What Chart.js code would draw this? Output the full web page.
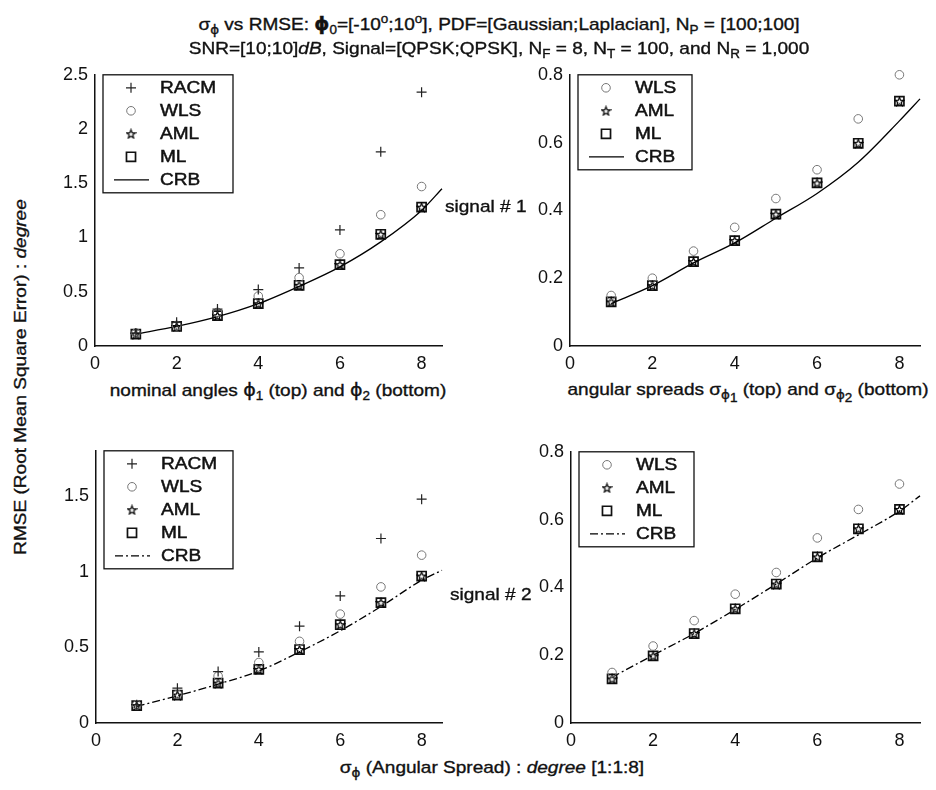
<!DOCTYPE html>
<html>
<head>
<meta charset="utf-8">
<script src="https://cdn.jsdelivr.net/npm/chart.js@4.4.0/dist/chart.umd.min.js"></script>
<style>
  body { margin: 0; width: 936px; height: 790px; background: #fff; position: relative; overflow: hidden;
         font-family: "Liberation Sans", Arial, sans-serif; color: #111; }
  canvas { position: absolute; }
  .txt { position: absolute; font-size: 17px; line-height: 20px; white-space: nowrap;
         -webkit-text-stroke: 0.35px #111; }
  .txt sub, .txt sup { font-size: 12px; line-height: 0; }
  .g { font-family: "DejaVu Sans", sans-serif; }
  .mid { transform: translateX(-50%) scaleX(1.12); }
  .lft { transform: scaleX(1.12); transform-origin: left center; }
  .ylab { transform: translate(-50%, -50%) rotate(-90deg) scaleX(1.12); }
</style>
</head>
<body>
<canvas id="c1"></canvas>
<canvas id="c2"></canvas>
<canvas id="c3"></canvas>
<canvas id="c4"></canvas>

<div class="txt mid" style="left:499px; top:14px;">σ<sub class="g">ϕ</sub> vs RMSE: <b class="g">ϕ</b><sub>0</sub>=[-10<sup>o</sup>;10<sup>o</sup>], PDF=[Gaussian;Laplacian], N<sub>P</sub> = [100;100]</div>
<div class="txt mid" style="left:499px; top:39px;">SNR=[10;10]<i>dB</i>, Signal=[QPSK;QPSK], N<sub>F</sub> = 8, N<sub>T</sub> = 100, and N<sub>R</sub> = 1,000</div>
<div class="txt mid" style="left:278px; top:380px;">nominal angles <span class="g">ϕ</span><sub>1</sub> (top) and <span class="g">ϕ</span><sub>2</sub> (bottom)</div>
<div class="txt mid" style="left:748px; top:380px;">angular spreads σ<sub><span class="g">ϕ</span><sub>1</sub></sub> (top) and σ<sub><span class="g">ϕ</span><sub>2</sub></sub> (bottom)</div>
<div class="txt lft" style="left:445px; top:197px;">signal # 1</div>
<div class="txt lft" style="left:450px; top:585px;">signal # 2</div>
<div class="txt ylab" style="left:21px; top:377px;">RMSE (Root Mean Square Error) : <i>degree</i></div>
<div class="txt mid" style="left:492px; top:758px;">σ<sub class="g">ϕ</sub> (Angular Spread) : <i>degree</i> [1:1:8]</div>

<script>
// x positions of the estimators and of the bound curve
const X_POINTS = [1, 2, 3, 4, 5, 6, 7, 8];
const X_CRB = [1, 2, 3, 4, 5, 6, 7, 8, 8.5];
const X_TICKS = [0, 2, 4, 6, 8];

// signal #1, nominal angle
const nomRacm1 = [0.12, 0.22, 0.34, 0.52, 0.72, 1.07, 1.79, 2.34];
const nomWls1  = [0.12, 0.19, 0.31, 0.46, 0.63, 0.85, 1.21, 1.47];
const nomAml1  = [0.11, 0.18, 0.28, 0.39, 0.56, 0.75, 1.03, 1.28];
const nomMl1   = [0.11, 0.18, 0.28, 0.39, 0.56, 0.75, 1.03, 1.28];
const nomCrb1  = [0.11, 0.18, 0.27, 0.39, 0.55, 0.73, 0.96, 1.25, 1.45];

// signal #1, angular spread
const sprWls1 = [0.149, 0.20, 0.28, 0.35, 0.435, 0.52, 0.67, 0.80];
const sprAml1 = [0.13, 0.178, 0.249, 0.311, 0.389, 0.481, 0.598, 0.722];
const sprMl1  = [0.13, 0.178, 0.249, 0.311, 0.389, 0.481, 0.598, 0.722];
const sprCrb1 = [0.125, 0.178, 0.245, 0.304, 0.377, 0.45, 0.542, 0.664, 0.729];

// signal #2, nominal angle
const nomRacm2 = [0.12, 0.23, 0.34, 0.47, 0.64, 0.84, 1.22, 1.48];
const nomWls2  = [0.12, 0.19, 0.31, 0.40, 0.54, 0.72, 0.90, 1.11];
const nomAml2  = [0.115, 0.185, 0.264, 0.355, 0.486, 0.65, 0.796, 0.972];
const nomMl2   = [0.115, 0.185, 0.264, 0.355, 0.486, 0.65, 0.796, 0.972];
const nomCrb2  = [0.11, 0.18, 0.257, 0.344, 0.47, 0.61, 0.77, 0.944, 1.01];

// signal #2, angular spread
const sprWls2 = [0.149, 0.227, 0.302, 0.38, 0.444, 0.546, 0.63, 0.705];
const sprAml2 = [0.13, 0.198, 0.264, 0.337, 0.41, 0.49, 0.573, 0.63];
const sprMl2  = [0.13, 0.198, 0.264, 0.337, 0.41, 0.49, 0.573, 0.63];
const sprCrb2 = [0.135, 0.2, 0.264, 0.335, 0.41, 0.487, 0.555, 0.625, 0.67];

const Y_TICKS_NOM1 = [0, 0.5, 1, 1.5, 2, 2.5];
const Y_TICKS_NOM2 = [0, 0.5, 1, 1.5];
const Y_TICKS_SPR = [0, 0.2, 0.4, 0.6, 0.8];

const FAMILY = '"Liberation Sans", Arial, sans-serif';
const TICK_FONT = { family: FAMILY, size: 18 };
const PAD_L = 60, PAD_T = 15, PAD_R = 15, PAD_B = 34;
const ROW = 23;

// small outlined pentagram used for the AML marker
function starImage(size) {
  const c = document.createElement('canvas');
  c.width = c.height = size;
  const g = c.getContext('2d');
  const cx = size / 2, cy = size / 2 + 0.5, R = size / 2 - 1, r = R * 0.42;
  g.beginPath();
  for (let i = 0; i < 10; i++) {
    const a = -Math.PI / 2 + i * Math.PI / 5;
    const rad = i % 2 ? r : R;
    g.lineTo(cx + rad * Math.cos(a), cy + rad * Math.sin(a));
  }
  g.closePath();
  g.strokeStyle = '#000';
  g.lineWidth = 1.2;
  g.stroke();
  return c;
}
const STAR = starImage(11);

function pts(xs, ys) {
  return ys.map((y, i) => ({ x: xs[i], y: y }));
}

function racmSet(ys) {
  return { label: 'RACM', data: pts(X_POINTS, ys), pointStyle: 'cross', pointRadius: 5,
           pointBorderWidth: 1.2, borderColor: '#222', backgroundColor: 'transparent' };
}
function wlsSet(ys) {
  return { label: 'WLS', data: pts(X_POINTS, ys), pointStyle: 'circle', pointRadius: 4.3,
           pointBorderWidth: 1, borderColor: '#777', backgroundColor: 'transparent' };
}
function amlSet(ys) {
  return { label: 'AML', data: pts(X_POINTS, ys), pointStyle: STAR, pointRadius: 5,
           borderColor: '#111', backgroundColor: 'transparent' };
}
function mlSet(ys) {
  return { label: 'ML', data: pts(X_POINTS, ys), pointStyle: 'rect', pointRadius: 6.4,
           pointBorderWidth: 1.7, borderColor: '#111', backgroundColor: 'transparent' };
}
function crbSet(ys, dash) {
  // drawn first so the markers sit on top of the curve
  return { label: 'CRB', data: pts(X_CRB, ys), showLine: true, pointRadius: 0, order: 5,
           borderColor: '#000', borderWidth: 1.3, borderDash: dash,
           cubicInterpolationMode: 'monotone', fill: false };
}

// MATLAB-style boxed legend sitting in the upper-left corner of the axes
const boxLegend = {
  id: 'boxLegend',
  afterDatasetsDraw(chart, args, opts) {
    const ctx = chart.ctx;
    const a = chart.chartArea;
    const sets = chart.data.datasets;
    const x0 = a.left + 8, y0 = a.top;
    const h = sets.length * ROW + 3;
    ctx.save();
    ctx.fillStyle = '#fff';
    ctx.fillRect(x0, y0, opts.width, h);
    ctx.strokeStyle = '#111';
    ctx.lineWidth = 1.3;
    ctx.strokeRect(x0, y0, opts.width, h);
    sets.forEach((ds, i) => {
      const cy = y0 + 13 + i * ROW;
      ctx.strokeStyle = ds.borderColor;
      if (ds.showLine) {
        ctx.lineWidth = ds.borderWidth;
        ctx.setLineDash(ds.borderDash || []);
        ctx.beginPath();
        ctx.moveTo(x0 + 11, cy);
        ctx.lineTo(x0 + 46, cy);
        ctx.stroke();
        ctx.setLineDash([]);
      } else {
        ctx.lineWidth = ds.pointBorderWidth || 1;
        ctx.fillStyle = 'transparent';
        Chart.helpers.drawPoint(ctx, { pointStyle: ds.pointStyle, radius: ds.pointRadius,
                                       rotation: 0, borderWidth: ds.pointBorderWidth || 1 }, x0 + 28, cy);
      }
      // label text, slightly widened and thickened like the printed legend
      ctx.save();
      ctx.translate(x0 + 57, cy + 1);
      ctx.scale(1.12, 1);
      ctx.fillStyle = '#111';
      ctx.strokeStyle = '#111';
      ctx.lineWidth = 0.5;
      ctx.font = '17px ' + FAMILY;
      ctx.textBaseline = 'middle';
      ctx.textAlign = 'left';
      ctx.fillText(ds.label, 0, 0);
      ctx.strokeText(ds.label, 0, 0);
      ctx.restore();
    });
    ctx.restore();
  }
};

function makePanel(id, area, yMax, yTicks, datasets, legendWidth) {
  const el = document.getElementById(id);
  const w = area.r - area.l + PAD_L + PAD_R;
  const h = area.b - area.t + PAD_T + PAD_B;
  el.width = w;
  el.height = h;
  el.style.left = (area.l - PAD_L) + 'px';
  el.style.top = (area.t - PAD_T) + 'px';
  datasets.forEach(ds => { ds.clip = false; });

  return new Chart(el, {
    type: 'scatter',
    data: { datasets: datasets },
    plugins: [boxLegend],
    options: {
      responsive: false,
      animation: false,
      events: [],
      layout: { padding: { top: PAD_T, right: PAD_R, left: 0, bottom: 0 } },
      plugins: {
        legend: { display: false },
        tooltip: { enabled: false },
        boxLegend: { width: legendWidth }
      },
      scales: {
        x: {
          type: 'linear', min: 0, max: 8.5,
          afterBuildTicks: s => { s.ticks = X_TICKS.map(v => ({ value: v })); },
          afterFit: s => { s.height = PAD_B; },
          grid: { display: false, drawTicks: false },
          border: { display: true, color: '#111', width: 1.5 },
          ticks: { color: '#111', font: TICK_FONT, padding: 7, maxRotation: 0, autoSkip: false,
                   callback: v => String(v) }
        },
        y: {
          type: 'linear', min: 0, max: yMax,
          afterBuildTicks: s => { s.ticks = yTicks.map(v => ({ value: v })); },
          afterFit: s => { s.width = PAD_L; },
          grid: { display: false, drawTicks: false },
          border: { display: true, color: '#111', width: 1.5 },
          ticks: { color: '#111', font: TICK_FONT, padding: 7, autoSkip: false,
                   callback: v => String(v) }
        }
      }
    }
  });
}

const DASH_DOT = [8, 3, 2, 3];

makePanel('c1', { l: 95, t: 72, r: 442, b: 346 }, 2.5, Y_TICKS_NOM1,
  [racmSet(nomRacm1), wlsSet(nomWls1), amlSet(nomAml1), mlSet(nomMl1), crbSet(nomCrb1, [])], 130);

makePanel('c2', { l: 570, t: 72, r: 920, b: 346 }, 0.8, Y_TICKS_SPR,
  [wlsSet(sprWls1), amlSet(sprAml1), mlSet(sprMl1), crbSet(sprCrb1, [])], 114);

makePanel('c3', { l: 96, t: 448, r: 442, b: 723 }, 1.8, Y_TICKS_NOM2,
  [racmSet(nomRacm2), wlsSet(nomWls2), amlSet(nomAml2), mlSet(nomMl2), crbSet(nomCrb2, DASH_DOT)], 129);

makePanel('c4', { l: 571, t: 449, r: 920, b: 723 }, 0.8, Y_TICKS_SPR,
  [wlsSet(sprWls2), amlSet(sprAml2), mlSet(sprMl2), crbSet(sprCrb2, DASH_DOT)], 115);
</script>
</body>
</html>
